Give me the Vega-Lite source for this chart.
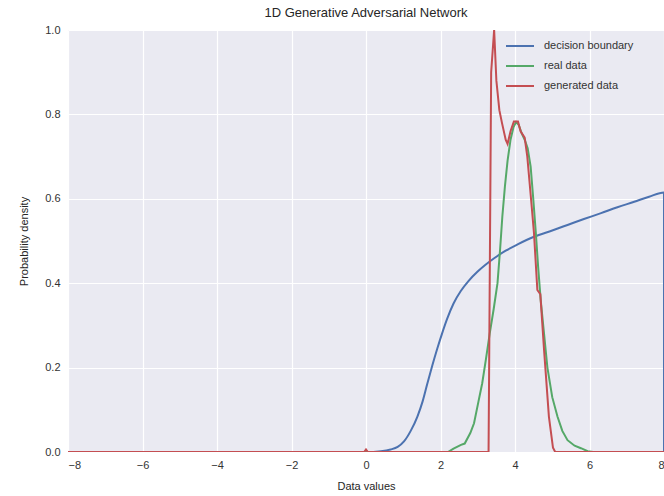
{
  "$schema": "https://vega.github.io/schema/vega-lite/v6.json",
  "width": 596,
  "height": 422,
  "autosize": "none",
  "padding": {"left": 68, "top": 30, "right": 0, "bottom": 44},
  "background": "white",
  "title": {"text": "1D Generative Adversarial Network", "fontSize": 13, "fontWeight": "normal", "font": "Liberation Sans", "color": "#262626", "offset": 4},
  "config": {
    "view": {"fill": "#EAEAF2", "stroke": null},
    "font": "Liberation Sans",
    "axis": {"grid": true, "gridColor": "white", "gridWidth": 1.2, "domain": false, "ticks": false, "labelFontSize": 11, "labelColor": "#333333", "titleFontSize": 11, "titleFontWeight": "normal", "titleColor": "#262626", "labelFont": "Liberation Sans", "titleFont": "Liberation Sans"}
  },
  "data": {"values": [
    {"series": "decision boundary", "x": -8, "y": 0},
    {"series": "decision boundary", "x": 0, "y": 0},
    {"series": "decision boundary", "x": 0.4, "y": 0.002},
    {"series": "decision boundary", "x": 0.66, "y": 0.006},
    {"series": "decision boundary", "x": 0.85, "y": 0.012},
    {"series": "decision boundary", "x": 1.02, "y": 0.025},
    {"series": "decision boundary", "x": 1.2, "y": 0.05},
    {"series": "decision boundary", "x": 1.38, "y": 0.084},
    {"series": "decision boundary", "x": 1.52, "y": 0.12},
    {"series": "decision boundary", "x": 1.64, "y": 0.16},
    {"series": "decision boundary", "x": 1.78, "y": 0.205},
    {"series": "decision boundary", "x": 1.91, "y": 0.244},
    {"series": "decision boundary", "x": 2.05, "y": 0.283},
    {"series": "decision boundary", "x": 2.18, "y": 0.316},
    {"series": "decision boundary", "x": 2.35, "y": 0.352},
    {"series": "decision boundary", "x": 2.54, "y": 0.381},
    {"series": "decision boundary", "x": 2.75, "y": 0.405},
    {"series": "decision boundary", "x": 2.99, "y": 0.427},
    {"series": "decision boundary", "x": 3.2, "y": 0.443},
    {"series": "decision boundary", "x": 3.44, "y": 0.459},
    {"series": "decision boundary", "x": 3.75, "y": 0.477},
    {"series": "decision boundary", "x": 4.07, "y": 0.492},
    {"series": "decision boundary", "x": 4.51, "y": 0.51},
    {"series": "decision boundary", "x": 5.0, "y": 0.525},
    {"series": "decision boundary", "x": 5.41, "y": 0.538},
    {"series": "decision boundary", "x": 5.85, "y": 0.552},
    {"series": "decision boundary", "x": 6.31, "y": 0.566},
    {"series": "decision boundary", "x": 6.75, "y": 0.58},
    {"series": "decision boundary", "x": 7.2, "y": 0.593},
    {"series": "decision boundary", "x": 7.6, "y": 0.605},
    {"series": "decision boundary", "x": 8.0, "y": 0.615},
    {"series": "decision boundary", "x": 8.0, "y": 0},
    {"series": "real data", "x": -8, "y": 0},
    {"series": "real data", "x": 2.2, "y": 0},
    {"series": "real data", "x": 2.35, "y": 0.008},
    {"series": "real data", "x": 2.55, "y": 0.017},
    {"series": "real data", "x": 2.65, "y": 0.02},
    {"series": "real data", "x": 2.8, "y": 0.045},
    {"series": "real data", "x": 2.9, "y": 0.068},
    {"series": "real data", "x": 3.02, "y": 0.12},
    {"series": "real data", "x": 3.12, "y": 0.163},
    {"series": "real data", "x": 3.22, "y": 0.22},
    {"series": "real data", "x": 3.32, "y": 0.28},
    {"series": "real data", "x": 3.43, "y": 0.34},
    {"series": "real data", "x": 3.53, "y": 0.4},
    {"series": "real data", "x": 3.6, "y": 0.48},
    {"series": "real data", "x": 3.66, "y": 0.558},
    {"series": "real data", "x": 3.73, "y": 0.63},
    {"series": "real data", "x": 3.8, "y": 0.69},
    {"series": "real data", "x": 3.88, "y": 0.74},
    {"series": "real data", "x": 3.96, "y": 0.77},
    {"series": "real data", "x": 4.03, "y": 0.782},
    {"series": "real data", "x": 4.1, "y": 0.775},
    {"series": "real data", "x": 4.18, "y": 0.755},
    {"series": "real data", "x": 4.26, "y": 0.74},
    {"series": "real data", "x": 4.34, "y": 0.72},
    {"series": "real data", "x": 4.42, "y": 0.676},
    {"series": "real data", "x": 4.49, "y": 0.6},
    {"series": "real data", "x": 4.56, "y": 0.518},
    {"series": "real data", "x": 4.62, "y": 0.44},
    {"series": "real data", "x": 4.69, "y": 0.36},
    {"series": "real data", "x": 4.78, "y": 0.28},
    {"series": "real data", "x": 4.87, "y": 0.2},
    {"series": "real data", "x": 5.0, "y": 0.13},
    {"series": "real data", "x": 5.14, "y": 0.084},
    {"series": "real data", "x": 5.27, "y": 0.05},
    {"series": "real data", "x": 5.41, "y": 0.028},
    {"series": "real data", "x": 5.6, "y": 0.015},
    {"series": "real data", "x": 5.77, "y": 0.009},
    {"series": "real data", "x": 5.95, "y": 0.002},
    {"series": "real data", "x": 6.1, "y": 0},
    {"series": "real data", "x": 8, "y": 0},
    {"series": "generated data", "x": -8, "y": 0},
    {"series": "generated data", "x": -0.05, "y": 0},
    {"series": "generated data", "x": 0, "y": 0.006},
    {"series": "generated data", "x": 0.05, "y": 0},
    {"series": "generated data", "x": 3.29, "y": 0},
    {"series": "generated data", "x": 3.36, "y": 0.9},
    {"series": "generated data", "x": 3.44, "y": 1.0},
    {"series": "generated data", "x": 3.5, "y": 0.88},
    {"series": "generated data", "x": 3.58, "y": 0.81},
    {"series": "generated data", "x": 3.65, "y": 0.78},
    {"series": "generated data", "x": 3.75, "y": 0.74},
    {"series": "generated data", "x": 3.8, "y": 0.73},
    {"series": "generated data", "x": 3.88, "y": 0.76},
    {"series": "generated data", "x": 3.97, "y": 0.783},
    {"series": "generated data", "x": 4.08, "y": 0.783},
    {"series": "generated data", "x": 4.15, "y": 0.76},
    {"series": "generated data", "x": 4.26, "y": 0.745},
    {"series": "generated data", "x": 4.33, "y": 0.7},
    {"series": "generated data", "x": 4.45, "y": 0.58},
    {"series": "generated data", "x": 4.51, "y": 0.518},
    {"series": "generated data", "x": 4.6, "y": 0.384},
    {"series": "generated data", "x": 4.68, "y": 0.374},
    {"series": "generated data", "x": 4.78, "y": 0.242},
    {"series": "generated data", "x": 4.91, "y": 0.084},
    {"series": "generated data", "x": 5.02, "y": 0.01},
    {"series": "generated data", "x": 5.08, "y": 0},
    {"series": "generated data", "x": 8, "y": 0}
  ]},
  "encoding": {
    "x": {"field": "x", "type": "quantitative", "scale": {"domain": [-8, 8], "nice": false}, "axis": {"values": [-8, -6, -4, -2, 0, 2, 4, 6, 8], "title": "Data values", "labelPadding": 7, "titlePadding": 10}},
    "y": {"field": "y", "type": "quantitative", "scale": {"domain": [0, 1], "nice": false}, "axis": {"values": [0, 0.2, 0.4, 0.6, 0.8, 1.0], "format": ".1f", "title": "Probability density", "labelPadding": 8, "titlePadding": 15}},
    "color": {"field": "series", "type": "nominal", "scale": {"domain": ["decision boundary", "real data", "generated data"], "range": ["#4C72B0", "#55A868", "#C44E52"]},
      "legend": {"title": null, "orient": "none", "legendX": 437, "legendY": 1, "symbolType": "stroke", "symbolSize": 784, "symbolStrokeWidth": 2, "labelFontSize": 11, "labelColor": "#333333", "rowPadding": -12, "labelOffset": 9}},
    "order": {"value": null}
  },
  "layer": [
    {"transform": [{"filter": "datum.series === 'decision boundary'"}], "mark": {"type": "line", "strokeWidth": 2, "clip": true, "interpolate": "monotone"}},
    {"transform": [{"filter": "datum.series !== 'decision boundary'"}], "mark": {"type": "line", "strokeWidth": 2, "clip": true}}
  ]
}
